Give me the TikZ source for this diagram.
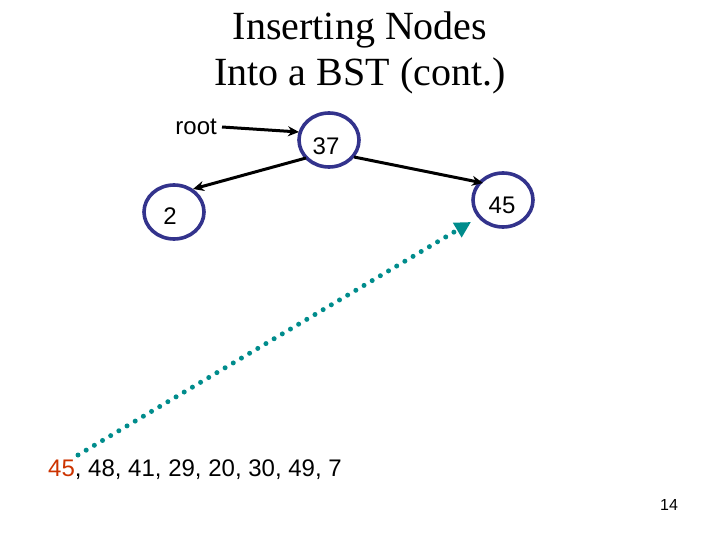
\documentclass[tikz,border=0pt]{standalone}
\usepackage{fontspec}
\setmainfont{Liberation Serif}
\newfontfamily\arial{Liberation Sans}
\usetikzlibrary{arrows.meta,shapes.geometric}
\definecolor{ringblue}{RGB}{51,51,140}
\definecolor{teal1}{RGB}{0,140,140}
\definecolor{redish}{RGB}{204,51,0}
\begin{document}
\begin{tikzpicture}[x=1pt,y=-1pt,
  treenode/.style={draw=ringblue,line width=3.6pt,ellipse,minimum width=60pt,minimum height=54pt,inner sep=0pt},
  lbl/.style={font=\arial\fontsize{24}{28}\selectfont},
  link/.style={line width=3pt,-{Stealth[length=11pt,width=10pt]}}]
\useasboundingbox (0,0) rectangle (720,540);
\node[font=\fontsize{40}{44}\selectfont] (t1) at (360,30) {Inserting Nodes};
\node[font=\fontsize{40}{44}\selectfont] (t2) at (360,76) {Into a BST (cont.)};
\node[treenode] (n37) at (329,140) {};
\node[lbl] (l37) at (326,146) {37};
\node[treenode] (n2) at (174,212) {};
\node[lbl] (l2) at (170,216) {2};
\node[treenode] (n45) at (503,200) {};
\node[lbl] (l45) at (502,205) {45};
\node[lbl,anchor=east,inner sep=0pt] (root) at (217,127) {root};
\coordinate (ra) at (222,127);
\coordinate (rb) at (299,132);
\draw[link] (ra) -- (rb);
\coordinate (a1) at (306,158);
\coordinate (a2) at (193,189);
\draw[link] (a1) -- (a2);
\coordinate (b1) at (354,157);
\coordinate (b2) at (483,183);
\draw[link] (b1) -- (b2);
\node[lbl,anchor=west,inner sep=0pt] (seq) at (48,470) {\textcolor{redish}{45}, 48, 41, 29, 20, 30, 49, 7};
\coordinate (d1) at (78,455);
\coordinate (d2) at (471,222);
\draw[teal1,line width=5pt,dash pattern=on 0pt off 9.5pt,line cap=round,-{Triangle[length=16pt,width=16pt,line cap=butt]}] (d1) -- (d2);
\node[font=\arial\fontsize{16}{18}\selectfont] (pg) at (669,505) {14};
\end{tikzpicture}
\end{document}
